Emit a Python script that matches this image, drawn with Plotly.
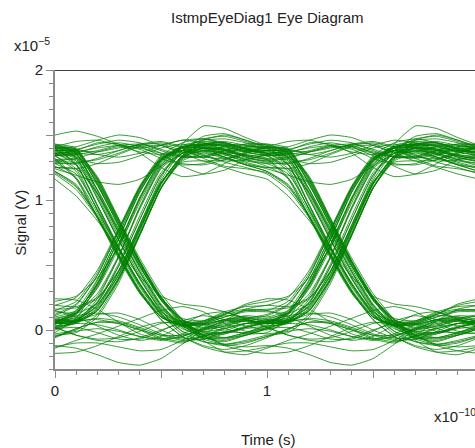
import plotly.graph_objects as go

# sample phases within one unit interval (x 1e-10 s)
ui_phase = [0.0, 0.1, 0.2, 0.3, 0.4, 0.5, 0.6, 0.7, 0.8, 0.9]

# received waveform, one row per unit interval (x 1e-5 V)
ui_samples = [
    [1.50, 1.53, 1.49, 1.43, 1.40, 1.42, 1.46, 1.47, 1.43, 1.39],
    [1.38, 1.38, 1.12, 0.80, 0.49, 0.23, 0.08, 0.02, 0.04, 0.09],
    [0.12, 0.20, 0.42, 0.76, 1.10, 1.32, 1.38, 1.35, 1.29, 1.25],
    [1.20, 1.08, 0.86, 0.57, 0.29, 0.08, -0.05, -0.12, -0.15, -0.12],
    [-0.06, 0.01, 0.06, 0.05, 0.00, -0.07, -0.10, -0.04, 0.07, 0.16],
    [0.19, 0.18, 0.25, 0.45, 0.79, 1.13, 1.34, 1.46, 1.50, 1.46],
    [1.41, 1.38, 1.37, 1.40, 1.42, 1.36, 1.26, 1.20, 1.23, 1.31],
    [1.34, 1.24, 0.92, 0.61, 0.33, 0.12, 0.04, 0.06, 0.12, 0.19],
    [0.22, 0.26, 0.40, 0.64, 0.98, 1.27, 1.40, 1.44, 1.42, 1.38],
    [1.41, 1.38, 1.14, 0.83, 0.52, 0.25, 0.08, -0.04, -0.12, -0.16],
    [-0.18, -0.17, -0.12, -0.05, 0.02, 0.06, 0.04, -0.02, -0.06, -0.04],
    [0.01, 0.06, 0.09, 0.07, 0.02, -0.04, -0.08, -0.07, -0.01, 0.05],
    [0.08, 0.14, 0.35, 0.66, 1.02, 1.30, 1.40, 1.40, 1.36, 1.31],
    [1.26, 1.17, 0.90, 0.59, 0.31, 0.11, 0.04, 0.07, 0.14, 0.18],
    [0.19, 0.25, 0.46, 0.78, 1.11, 1.34, 1.44, 1.47, 1.44, 1.39],
    [1.36, 1.38, 1.44, 1.43, 1.36, 1.25, 1.18, 1.20, 1.28, 1.36],
    [1.40, 1.39, 1.35, 1.33, 1.36, 1.42, 1.46, 1.44, 1.39, 1.37],
    [1.38, 1.37, 1.18, 0.86, 0.55, 0.28, 0.08, -0.08, -0.17, -0.19],
    [-0.14, -0.08, -0.03, 0.03, 0.09, 0.15, 0.18, 0.14, 0.05, -0.01],
    [-0.03, 0.00, 0.12, 0.38, 0.74, 1.10, 1.32, 1.40, 1.39, 1.34],
    [1.31, 1.16, 0.86, 0.55, 0.28, 0.10, 0.04, 0.06, 0.11, 0.10],
    [0.06, 0.07, 0.19, 0.45, 0.81, 1.17, 1.43, 1.57, 1.55, 1.48],
    [1.42, 1.39, 1.16, 0.85, 0.53, 0.25, 0.07, -0.04, -0.11, -0.13],
    [-0.12, -0.14, -0.19, -0.25, -0.27, -0.22, -0.11, 0.00, 0.07, 0.07],
    [0.05, 0.15, 0.39, 0.73, 1.09, 1.32, 1.41, 1.42, 1.43, 1.42],
    [1.40, 1.41, 1.46, 1.50, 1.48, 1.42, 1.37, 1.37, 1.41, 1.43],
    [1.43, 1.36, 1.05, 0.72, 0.42, 0.17, 0.04, -0.01, -0.02, 0.02],
    [0.06, 0.07, 0.16, 0.40, 0.74, 1.09, 1.30, 1.36, 1.32, 1.27],
    [1.22, 1.12, 0.88, 0.58, 0.30, 0.10, 0.03, 0.05, 0.12, 0.20],
    [0.24, 0.23, 0.16, 0.06, -0.03, -0.07, -0.05, 0.01, 0.06, 0.07],
    [0.06, 0.10, 0.26, 0.56, 0.93, 1.24, 1.36, 1.37, 1.33, 1.28],
    [1.24, 1.19, 1.14, 1.12, 1.16, 1.26, 1.36, 1.42, 1.42, 1.38],
    [1.37, 1.35, 1.08, 0.76, 0.45, 0.19, 0.02, -0.06, -0.08, -0.04],
    [0.01, 0.07, 0.12, 0.13, 0.08, 0.00, -0.06, -0.07, -0.03, 0.01],
    [0.03, 0.05, 0.15, 0.40, 0.76, 1.12, 1.34, 1.43, 1.44, 1.40],
    [1.36, 1.27, 0.96, 0.64, 0.36, 0.14, 0.04, 0.04, 0.08, 0.10],
    [0.08, 0.09, 0.21, 0.49, 0.85, 1.19, 1.38, 1.47, 1.49, 1.45],
    [1.40, 1.36, 1.35, 1.38, 1.43, 1.45, 1.41, 1.34, 1.30, 1.31],
    [1.35, 1.35, 1.13, 0.82, 0.51, 0.24, 0.06, -0.04, -0.06, -0.02],
    [0.04, 0.13, 0.36, 0.70, 1.06, 1.31, 1.38, 1.38, 1.33, 1.27],
    [1.25, 1.24, 1.05, 0.77, 0.49, 0.24, 0.09, 0.07, 0.13, 0.16],
    [0.15, 0.10, 0.03, -0.04, -0.08, -0.05, 0.04, 0.12, 0.14, 0.09],
    [0.02, -0.04, -0.07, -0.06, -0.01, 0.05, 0.07, 0.04, -0.01, -0.02],
    [0.02, 0.12, 0.38, 0.73, 1.08, 1.31, 1.40, 1.41, 1.38, 1.33],
    [1.30, 1.29, 1.31, 1.36, 1.42, 1.44, 1.40, 1.32, 1.26, 1.24],
    [1.21, 1.10, 0.87, 0.58, 0.30, 0.10, 0.04, 0.05, 0.10, 0.15],
    [0.16, 0.17, 0.24, 0.46, 0.80, 1.15, 1.38, 1.49, 1.51, 1.46],
    [1.40, 1.27, 0.95, 0.63, 0.34, 0.12, -0.03, -0.09, -0.11, -0.08],
    [-0.04, -0.02, 0.10, 0.36, 0.73, 1.09, 1.31, 1.38, 1.36, 1.32],
    [1.30, 1.32, 1.37, 1.41, 1.39, 1.32, 1.27, 1.28, 1.34, 1.41],
    [1.43, 1.40, 1.16, 0.84, 0.52, 0.24, 0.05, -0.05, -0.07, -0.03],
    [0.02, 0.05, 0.04, 0.00, -0.05, -0.08, -0.05, 0.02, 0.08, 0.09],
    [0.07, 0.13, 0.32, 0.63, 1.00, 1.28, 1.40, 1.42, 1.39, 1.34],
    [1.31, 1.31, 1.08, 0.78, 0.47, 0.20, 0.03, -0.04, -0.02, 0.03],
    [0.07, 0.08, 0.18, 0.43, 0.78, 1.13, 1.33, 1.38, 1.35, 1.29],
    [1.25, 1.24, 1.28, 1.35, 1.41, 1.42, 1.36, 1.30, 1.31, 1.36],
    [1.41, 1.45, 1.46, 1.42, 1.37, 1.35, 1.38, 1.43, 1.45, 1.42],
    [1.39, 1.33, 1.03, 0.70, 0.40, 0.15, -0.01, -0.09, -0.12, -0.10],
    [-0.05, 0.01, 0.06, 0.06, 0.01, -0.06, -0.09, -0.05, 0.02, 0.05],
    [0.05, 0.06, 0.15, 0.39, 0.73, 1.09, 1.33, 1.43, 1.44, 1.39],
    [1.34, 1.22, 0.92, 0.62, 0.35, 0.14, 0.06, 0.07, 0.12, 0.15],
    [0.15, 0.22, 0.44, 0.77, 1.10, 1.33, 1.41, 1.43, 1.41, 1.37],
    [1.34, 1.34, 1.17, 0.85, 0.53, 0.26, 0.06, -0.06, -0.09, -0.04],
    [0.01, 0.02, -0.02, -0.07, -0.07, -0.01, 0.07, 0.11, 0.08, 0.03],
    [0.00, 0.06, 0.24, 0.56, 0.95, 1.26, 1.38, 1.42, 1.42, 1.40],
    [1.38, 1.39, 1.43, 1.46, 1.44, 1.38, 1.33, 1.33, 1.38, 1.43],
    [1.42, 1.32, 1.01, 0.69, 0.39, 0.15, 0.03, -0.01, 0.01, 0.05],
    [0.07, 0.08, 0.19, 0.45, 0.81, 1.14, 1.29, 1.30, 1.25, 1.20],
    [1.16, 1.03, 0.84, 0.62, 0.41, 0.26, 0.20, 0.18, 0.14, 0.08],
    [0.02, -0.04, -0.08, -0.09, -0.06, 0.00, 0.05, 0.05, 0.01, -0.03],
    [-0.02, 0.09, 0.35, 0.70, 1.07, 1.30, 1.38, 1.39, 1.35, 1.30],
    [1.28, 1.27, 1.05, 0.75, 0.45, 0.19, 0.05, 0.00, 0.03, 0.07],
    [0.09, 0.13, 0.28, 0.57, 0.94, 1.25, 1.40, 1.46, 1.47, 1.44],
    [1.38, 1.32, 1.28, 1.29, 1.34, 1.40, 1.43, 1.40, 1.33, 1.27],
    [1.22, 1.11, 0.87, 0.57, 0.29, 0.08, -0.05, -0.13, -0.17, -0.16],
    [-0.13, -0.10, -0.10, -0.13, -0.16, -0.15, -0.08, 0.01, 0.07, 0.08],
    [0.05, 0.06, 0.17, 0.42, 0.78, 1.13, 1.34, 1.40, 1.37, 1.34],
    [1.35, 1.33, 1.11, 0.81, 0.50, 0.23, 0.06, -0.02, -0.02, 0.02],
    [0.06, 0.12, 0.33, 0.66, 1.02, 1.30, 1.41, 1.43, 1.41, 1.37],
    [1.34, 1.36, 1.41, 1.44, 1.41, 1.34, 1.28, 1.27, 1.31, 1.37],
    [1.40, 1.28, 0.96, 0.64, 0.35, 0.13, 0.01, -0.04, -0.03, 0.02],
    [0.07, 0.11, 0.13, 0.10, 0.04, -0.03, -0.07, -0.05, 0.01, 0.05],
    [0.06, 0.07, 0.21, 0.49, 0.85, 1.19, 1.36, 1.41, 1.40, 1.38],
    [1.36, 1.37, 1.40, 1.42, 1.40, 1.36, 1.33, 1.34, 1.38, 1.41],
    [1.41, 1.39, 1.15, 0.83, 0.52, 0.25, 0.08, 0.01, 0.03, 0.08],
    [0.11, 0.19, 0.42, 0.76, 1.09, 1.32, 1.40, 1.40, 1.36, 1.31],
    [1.28, 1.20, 0.93, 0.63, 0.36, 0.12, -0.01, -0.06, -0.06, -0.02],
    [0.03, 0.07, 0.08, 0.05, 0.00, -0.04, -0.04, 0.00, 0.05, 0.07],
    [0.06, 0.13, 0.36, 0.70, 1.06, 1.31, 1.41, 1.43, 1.43, 1.39],
    [1.35, 1.30, 1.01, 0.69, 0.40, 0.16, 0.06, 0.05, 0.10, 0.14],
    [0.14, 0.13, 0.20, 0.42, 0.77, 1.12, 1.33, 1.40, 1.38, 1.33],
    [1.29, 1.28, 1.32, 1.38, 1.43, 1.43, 1.38, 1.33, 1.32, 1.35],
    [1.38, 1.37, 1.12, 0.80, 0.49, 0.23, 0.04, -0.07, -0.11, -0.09],
    [-0.05, -0.01, 0.01, -0.01, -0.05, -0.07, -0.03, 0.04, 0.08, 0.08],
    [0.05, 0.06, 0.15, 0.39, 0.73, 1.09, 1.32, 1.40, 1.39, 1.35],
    [1.32, 1.17, 0.87, 0.56, 0.29, 0.10, 0.03, 0.04, 0.08, 0.11],
    [0.10, 0.15, 0.34, 0.65, 1.01, 1.29, 1.42, 1.45, 1.44, 1.40],
    [1.36, 1.35, 1.38, 1.42, 1.43, 1.39, 1.34, 1.33, 1.36, 1.40],
    [1.40, 1.36, 1.07, 0.74, 0.44, 0.18, 0.03, -0.03, -0.02, 0.02],
    [0.05, 0.08, 0.22, 0.51, 0.88, 1.21, 1.36, 1.40, 1.38, 1.34],
    [1.32, 1.33, 1.37, 1.41, 1.41, 1.37, 1.33, 1.32, 1.35, 1.39],
    [1.40, 1.40, 1.38, 1.36, 1.36, 1.38, 1.40, 1.40, 1.38, 1.36],
]

x_tick_vals = [0, 0.5, 1, 1.5]
x_tick_text = ["0", "", "1", ""]
y_tick_vals = [0, 0.5, 1, 1.5, 2]
y_tick_text = ["0", "", "1", "", "2"]

chart_title = "IstmpEyeDiag1 Eye Diagram"
x_title = "Time (s)"
y_title = "Signal (V)"
x_exponent = "x10<sup>\u221210</sup>"
y_exponent = "x10<sup>\u22125</sup>"

TEXT = "#222222"
AXIS = "#8a8a8a"
FONT = "Liberation Sans, Arial, sans-serif"

fig = go.Figure()
window_x = ui_phase + [p + 1 for p in ui_phase] + [2.0]
for k in range(len(ui_samples) - 2):
    ys = ui_samples[k] + ui_samples[k + 1] + [ui_samples[k + 2][0]]
    fig.add_trace(go.Scatter(
        x=window_x, y=ys, mode="lines",
        line=dict(color="rgba(0,128,0,0.78)", width=1, shape="spline", smoothing=0.5),
        hoverinfo="skip", showlegend=False,
    ))

axis_common = dict(
    showline=True, linecolor=AXIS, linewidth=2, ticks="outside", tickcolor=AXIS,
    ticklen=7, tickwidth=1, showgrid=False, zeroline=False,
    tickfont=dict(family=FONT, size=15, color=TEXT),
)

fig.update_xaxes(
    range=[0, 1.981], tickmode="array", tickvals=x_tick_vals, ticktext=x_tick_text,
    minor=dict(tickmode="linear", tick0=0, dtick=0.1, ticks="outside", ticklen=4,
               tickcolor=AXIS, tickwidth=1),
    **axis_common,
)
fig.update_yaxes(
    range=[-0.3, 2], tickmode="array", tickvals=y_tick_vals, ticktext=y_tick_text,
    minor=dict(tickmode="linear", tick0=0, dtick=0.1, ticks="outside", ticklen=4,
               tickcolor=AXIS, tickwidth=1),
    **axis_common,
)

fig.add_shape(type="line", xref="paper", x0=0, x1=1, yref="y", y0=2, y1=2,
              line=dict(color="black", width=1.5))

ann_font = dict(family=FONT, size=15, color=TEXT)
fig.add_annotation(text=chart_title, xref="paper", yref="paper", x=0.505, y=1.174,
                   xanchor="center", yanchor="middle", showarrow=False, font=ann_font)
fig.add_annotation(text=y_exponent, xref="paper", yref="paper", x=-0.102, y=1.084,
                   xanchor="left", yanchor="middle", showarrow=False, font=ann_font)
fig.add_annotation(text=x_exponent, xref="paper", yref="paper", x=0.898, y=-0.154,
                   xanchor="left", yanchor="middle", showarrow=False, font=ann_font)
fig.add_annotation(text=x_title, xref="paper", yref="paper", x=0.507, y=-0.237,
                   xanchor="center", yanchor="middle", showarrow=False, font=ann_font)
fig.add_annotation(text=y_title, xref="paper", yref="paper", x=-0.083, y=0.49,
                   xanchor="center", yanchor="middle", textangle=-90, showarrow=False,
                   font=ann_font)

fig.update_layout(
    width=475, height=448,
    margin=dict(l=55, r=0, t=70, b=79),
    paper_bgcolor="white", plot_bgcolor="white",
    font=dict(family=FONT, color=TEXT),
)

fig.write_html("out.html", config={"displayModeBar": False},
               post_script="document.body.style.margin='0px';document.body.style.overflow='hidden';")
